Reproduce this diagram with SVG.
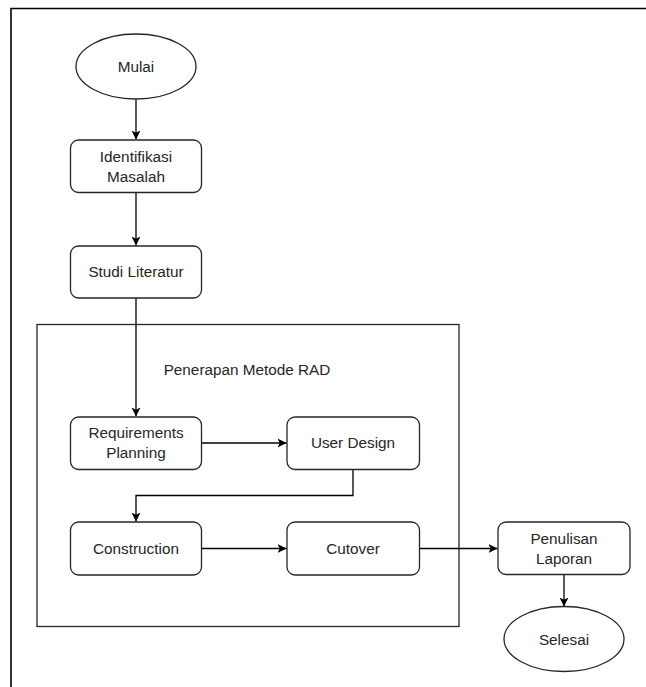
<svg xmlns="http://www.w3.org/2000/svg" width="646" height="687" viewBox="0 0 646 687">
<defs>
<style>
.n{fill:#fff;stroke:#262626;stroke-width:1.3}
.t{font-family:"Liberation Sans",Arial,sans-serif;font-size:15.3px;fill:#262626;text-anchor:middle}
.c{fill:none;stroke:#000;stroke-width:1.3}
</style>
<marker id="a" markerUnits="userSpaceOnUse" markerWidth="12" markerHeight="12" refX="9" refY="5" orient="auto">
<path d="M0,0.5 L9,5 L0,9.5 L2.2,5 z" fill="#000"/>
</marker>
</defs>
<rect width="646" height="687" fill="#fff"/>
<path d="M11,687 V8.5 H646" fill="none" stroke="#000" stroke-width="1.6"/>
<g id="container">
<rect x="37" y="324.5" width="422" height="302" fill="none" stroke="#262626" stroke-width="1.3"/>
<text class="t" x="247" y="375">Penerapan Metode RAD</text>
</g>
<g id="connectors">
<path class="c" d="M136,99.5 V139.5" marker-end="url(#a)"/>
<path class="c" d="M136,192.5 V245.5" marker-end="url(#a)"/>
<path class="c" d="M136,298 V416.5" marker-end="url(#a)"/>
<path class="c" d="M201.5,443 H286.5" marker-end="url(#a)"/>
<path class="c" d="M353,469.5 V495.5 H136 V521.5" marker-end="url(#a)"/>
<path class="c" d="M201.5,548.5 H286.5" marker-end="url(#a)"/>
<path class="c" d="M419.5,548.5 H497.5" marker-end="url(#a)"/>
<path class="c" d="M564,574.5 V606.5" marker-end="url(#a)"/>
</g>
<g id="mulai">
<ellipse class="n" cx="136" cy="66.5" rx="60" ry="32.5"/>
<text class="t" x="136" y="72">Mulai</text>
</g>
<g id="identifikasi">
<rect class="n" x="70.5" y="140" width="131" height="52.5" rx="8"/>
<text class="t" x="136" y="162">Identifikasi</text>
<text class="t" x="136" y="182">Masalah</text>
</g>
<g id="studi">
<rect class="n" x="70.5" y="246" width="131" height="52" rx="8"/>
<text class="t" x="136" y="277">Studi Literatur</text>
</g>
<g id="requirements">
<rect class="n" x="70.5" y="417" width="131" height="52.5" rx="8"/>
<text class="t" x="136" y="438">Requirements</text>
<text class="t" x="136" y="458">Planning</text>
</g>
<g id="userdesign">
<rect class="n" x="287" y="417" width="132.5" height="52.5" rx="8"/>
<text class="t" x="353" y="448">User Design</text>
</g>
<g id="construction">
<rect class="n" x="70.5" y="522" width="131" height="53" rx="8"/>
<text class="t" x="136" y="554">Construction</text>
</g>
<g id="cutover">
<rect class="n" x="287" y="522" width="132.5" height="53" rx="8"/>
<text class="t" x="353" y="554">Cutover</text>
</g>
<g id="penulisan">
<rect class="n" x="498" y="522" width="132" height="52.5" rx="8"/>
<text class="t" x="564" y="543.5">Penulisan</text>
<text class="t" x="564" y="563.5">Laporan</text>
</g>
<g id="selesai">
<ellipse class="n" cx="564" cy="639" rx="60" ry="32.5"/>
<text class="t" x="564" y="645">Selesai</text>
</g>
</svg>
